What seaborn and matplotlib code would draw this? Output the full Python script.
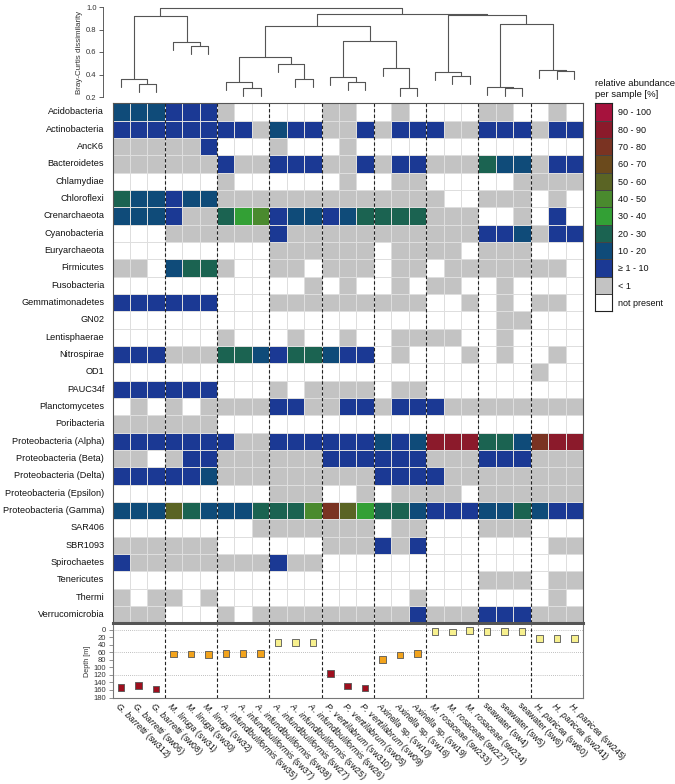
import numpy as np
import pandas as pd
import matplotlib
matplotlib.use("Agg")
import matplotlib.pyplot as plt
from matplotlib.colors import ListedColormap, BoundaryNorm
import seaborn as sns

sns.set_theme(style="white")
plt.rcParams["font.family"] = ["Liberation Sans", "DejaVu Sans"]
plt.rcParams["mathtext.fontset"] = "custom"
plt.rcParams["mathtext.it"] = "Liberation Sans:italic"
plt.rcParams["mathtext.rm"] = "Liberation Sans"

# --- data ---
species = ["G. barretti"] * 3 + ["M. linuga"] * 3 + ["A. infundibuliformis"] * 6 + \
          ["P. ventilabrum"] * 3 + ["Axinella sp."] * 3 + ["M. rosaceae"] * 3 + \
          ["seawater"] * 3 + ["H. panicea"] * 3
sample_ids = ["sw312", "sw06", "sw08", "sw31", "sw30", "sw32", "sw35", "sw37", "sw38",
              "sw27", "sw25", "sw26", "sw310", "sw05", "sw09", "sw10", "sw16", "sw19",
              "sw233", "sw227", "sw234", "sw4", "sw5", "sw6", "sw60", "sw241", "sw245"]

phyla = ["Acidobacteria", "Actinobacteria", "AncK6", "Bacteroidetes", "Chlamydiae",
         "Chloroflexi", "Crenarchaeota", "Cyanobacteria", "Euryarchaeota", "Firmicutes",
         "Fusobacteria", "Gemmatimonadetes", "GN02", "Lentisphaerae", "Nitrospirae",
         "OD1", "PAUC34f", "Planctomycetes", "Poribacteria", "Proteobacteria (Alpha)",
         "Proteobacteria (Beta)", "Proteobacteria (Delta)", "Proteobacteria (Epsilon)",
         "Proteobacteria (Gamma)", "SAR406", "SBR1093", "Spirochaetes", "Tenericutes",
         "Thermi", "Verrucomicrobia"]

# abundance class: 0 not present, 1 <1, 2 1-10, 3 10-20, ... 11 90-100
abundance = [
    [3,3,3,2,2,2,1,0,0,0,0,0,1,1,0,0,1,0,0,0,0,1,1,0,0,1,0],
    [2,2,2,2,2,2,2,2,1,3,2,2,1,1,2,1,2,2,2,1,1,2,2,2,1,2,2],
    [1,1,1,1,1,2,0,0,0,1,0,0,0,1,0,0,0,0,0,0,0,0,0,0,0,0,0],
    [1,1,1,1,1,1,2,1,1,2,2,2,1,1,2,1,2,2,1,1,1,4,3,3,1,2,2],
    [0,0,0,0,0,0,1,0,0,0,0,0,0,1,0,0,1,1,0,0,0,0,0,1,1,1,1],
    [4,3,3,2,3,3,1,1,1,1,1,1,1,1,1,1,1,1,1,0,0,1,1,1,0,1,0],
    [3,3,3,2,1,1,4,5,6,2,3,3,2,3,4,4,4,4,1,1,1,0,0,1,0,2,0],
    [0,0,0,1,1,1,1,1,1,2,1,1,1,1,1,1,1,1,1,1,1,2,2,3,1,2,2],
    [0,0,0,0,0,0,0,0,0,1,1,1,1,1,1,0,1,1,1,1,0,1,1,1,0,0,0],
    [1,1,0,3,4,4,1,0,0,1,1,0,1,1,1,0,1,1,0,1,1,1,1,1,1,1,0],
    [0,0,0,0,0,0,0,0,0,0,0,1,0,1,0,0,1,0,1,1,0,0,1,0,0,0,0],
    [2,2,2,2,2,2,0,0,0,1,1,1,1,1,1,1,1,1,0,0,1,0,1,0,1,1,0],
    [0,0,0,0,0,0,0,0,0,0,0,0,0,0,0,0,0,0,0,0,0,0,1,1,0,0,0],
    [0,0,0,0,0,0,1,0,0,0,1,0,0,1,0,0,1,1,1,1,0,0,1,0,0,0,0],
    [2,2,2,1,1,1,4,4,3,2,4,4,3,2,2,0,1,0,0,0,1,0,1,0,0,1,0],
    [0,0,0,0,0,0,0,0,0,0,0,0,0,0,0,0,0,0,0,0,0,0,0,0,1,0,0],
    [2,2,2,2,2,2,0,0,0,1,0,1,1,1,1,0,1,1,0,0,0,0,0,0,0,0,0],
    [0,1,0,1,0,1,1,1,1,2,2,1,1,2,2,1,2,2,2,1,1,1,1,1,1,1,1],
    [1,1,1,1,1,1,0,0,0,0,0,0,0,0,0,0,0,0,0,0,0,0,0,0,0,0,0],
    [2,2,2,2,2,2,2,1,1,2,2,2,2,2,2,3,2,3,10,10,10,4,4,3,9,10,10],
    [1,1,0,1,2,2,1,1,1,1,1,1,2,2,2,2,2,2,1,1,1,2,2,2,1,1,1],
    [2,2,2,2,2,3,1,1,1,1,1,1,1,1,1,2,2,2,2,1,1,1,1,1,1,1,1],
    [0,0,0,0,0,0,0,0,0,1,1,1,0,0,1,0,1,1,1,1,0,1,1,1,1,1,1],
    [3,3,3,7,4,3,3,3,4,4,4,6,9,7,5,4,4,3,2,2,2,3,3,4,3,2,2],
    [0,0,0,0,0,0,0,0,1,1,1,1,1,1,1,0,1,1,0,0,0,1,1,1,0,0,0],
    [1,1,1,1,1,1,0,0,0,0,0,0,1,1,1,2,1,2,0,0,0,0,0,0,0,1,1],
    [2,1,1,1,1,1,1,1,1,2,1,1,0,0,0,0,0,0,0,0,0,0,0,0,0,0,0],
    [0,0,0,0,0,0,0,0,0,0,0,0,0,0,0,0,0,0,0,0,0,1,1,1,0,1,1],
    [1,0,1,1,0,1,0,0,0,0,0,0,0,0,0,0,0,1,0,0,0,0,0,0,0,1,0],
    [1,1,1,0,0,0,1,0,1,1,1,1,1,1,1,1,1,2,1,1,1,2,2,2,1,1,1],
]

class_labels = ["not present", "< 1", "\u2265 1 - 10", "10 - 20", "20 - 30", "30 - 40",
                "40 - 50", "50 - 60", "60 - 70", "70 - 80", "80 - 90", "90 - 100"]
class_colors = ["#ffffff", "#c3c3c3", "#1b3994", "#0f4b79", "#1b6351", "#33a035",
                "#4a8a2e", "#5a6424", "#6b4a1c", "#7a3322", "#8b1a2b", "#a6123d"]

depth = [154, 148, 157, 65, 65, 66, 63, 64, 64, 35, 35, 35, 117, 150, 155,
         79, 68, 64, 5, 7, 2, 5, 5, 5, 24, 24, 24]
depth_zone = ["deep"] * 3 + ["mid"] * 6 + ["shallow"] * 3 + ["deep"] * 3 + ["mid"] * 3 + \
             ["shallow"] * 9
zone_colors = {"deep": "#9e0f1e", "mid": "#f2a31c", "shallow": "#f7f08e"}
depth_guides = [0, 60, 120]
group_breaks = [3, 6, 9, 12, 15, 18, 21, 24]

# Bray-Curtis dendrogram: (left, right, height); leaves 0..26, new nodes from 27
merges = [
    (1, 2, 0.320), (0, 27, 0.363), (4, 5, 0.653), (3, 29, 0.686), (28, 30, 0.917),
    (7, 8, 0.283), (6, 32, 0.333), (10, 11, 0.357), (9, 34, 0.493), (33, 35, 0.553),
    (13, 14, 0.333), (12, 37, 0.378), (16, 17, 0.277), (15, 39, 0.458), (38, 40, 0.698),
    (36, 41, 0.828), (19, 20, 0.387), (18, 43, 0.419), (22, 23, 0.277), (21, 45, 0.286),
    (25, 26, 0.428), (24, 47, 0.437), (46, 48, 0.846), (44, 49, 0.929), (42, 50, 0.941),
    (31, 51, 0.991),
]
hang = 0.072


def sample_label(sp, sid):
    if sp == "seawater":
        return f"{sp} ({sid})"
    if sp.endswith(" sp."):
        return f"$\\mathit{{{sp[:-4]}}}$ sp. ({sid})"
    return "$\\mathit{" + sp.replace(" ", "\\ ") + "}$" + f" ({sid})"


samples = [sample_label(s, i) for s, i in zip(species, sample_ids)]
n = len(samples)

W, H = 675, 784
fig = plt.figure(figsize=(W / 100, H / 100), dpi=100)


def box(x0, y0, x1, y1):
    return [x0 / W, 1 - y1 / H, (x1 - x0) / W, (y1 - y0) / H]


ax_den = fig.add_axes(box(112.5, 7, 583, 97))
ax_hm = fig.add_axes(box(112.5, 103.3, 583, 623.3))
ax_dep = fig.add_axes(box(112.5, 625, 583, 697.5))
ax_leg = fig.add_axes(box(595, 103.3, 612, 311.3))

cmap = ListedColormap(class_colors)
norm = BoundaryNorm(np.arange(-0.5, len(class_colors)), len(class_colors))

# --- heatmap ---
df = pd.DataFrame(abundance, index=phyla, columns=samples)
sns.heatmap(df, ax=ax_hm, cmap=cmap, norm=norm, cbar=False, linewidths=0.7,
            linecolor="#dedede", xticklabels=False, yticklabels=True)
ax_hm.tick_params(axis="y", length=0, labelsize=6.6, pad=6, labelcolor="#111")
ax_hm.set_yticklabels(phyla, rotation=0)
ax_hm.set_xlabel("")
ax_hm.set_ylabel("")
for name, sp in ax_hm.spines.items():
    sp.set_visible(True)
    sp.set_color("#555")
    sp.set_linewidth(0.8)
ax_hm.spines["bottom"].set_linewidth(2.2)
for b in group_breaks:
    ax_hm.axvline(b, color="#222", ls=(0, (3, 2)), lw=0.8)

# --- dendrogram ---
pos = {i: i + 0.5 for i in range(n)}
hgt = {}
for k, (a, b, h) in enumerate(merges):
    node = n + k
    for c in (a, b):
        bottom = hgt.get(c, h - hang)
        ax_den.plot([pos[c], pos[c]], [bottom, h], color="#555", lw=0.8)
    ax_den.plot([pos[a], pos[b]], [h, h], color="#555", lw=0.8)
    pos[node] = (pos[a] + pos[b]) / 2
    hgt[node] = h
ax_den.set_xlim(0, n)
ax_den.set_ylim(0.2, 1.0)
ax_den.set_xticks([])
ax_den.set_yticks([0.2, 0.4, 0.6, 0.8, 1.0])
ax_den.set_yticklabels(["0.2", "0.4", "0.6", "0.8", "1.0"], rotation=90, va="center")
ax_den.tick_params(axis="y", labelsize=5.5, length=3, width=0.6, pad=1.5, left=True,
                   color="#444", labelcolor="#333")
for s in ["top", "right", "bottom"]:
    ax_den.spines[s].set_visible(False)
ax_den.spines["left"].set_position(("outward", 7))
ax_den.spines["left"].set_color("#444")
ax_den.spines["left"].set_linewidth(0.6)
ax_den.set_ylabel("Bray-Curtis dissimilarity", fontsize=5.8, color="#333", labelpad=2)
ax_den.patch.set_alpha(0)

# --- depth panel ---
dep = pd.DataFrame({"x": np.arange(n) + 0.5, "depth": depth, "zone": depth_zone})
for g in depth_guides:
    ax_dep.axhline(g, color="#aaa", ls=(0, (1, 1.5)), lw=0.6, zorder=0)
for b in group_breaks:
    ax_dep.axvline(b, color="#222", ls=(0, (3, 2)), lw=0.8)
sns.scatterplot(data=dep, x="x", y="depth", hue="zone", palette=zone_colors, marker="s",
                s=22, edgecolor="#555", linewidth=0.6, legend=False, ax=ax_dep, zorder=3)
ax_dep.set_xlim(0, n)
ax_dep.set_ylim(180, -12)
ax_dep.set_yticks(range(0, 181, 20))
ax_dep.tick_params(axis="y", labelsize=5.5, length=3, width=0.5, pad=1.5, left=True,
                   color="#666", labelcolor="#333")
ax_dep.set_xticks(dep["x"])
ax_dep.set_xticklabels(samples, rotation=-45, ha="left", va="top", rotation_mode="anchor",
                       fontsize=6.2, color="#111")
ax_dep.tick_params(axis="x", length=0, pad=2)
ax_dep.set_xlabel("")
ax_dep.set_ylabel("Depth [m]", fontsize=5.2, color="#333", labelpad=2)
ax_dep.spines["top"].set_visible(False)
for s in ["left", "right", "bottom"]:
    ax_dep.spines[s].set_color("#777")
    ax_dep.spines[s].set_linewidth(0.8)

# --- legend ---
leg_codes = list(range(len(class_colors) - 1, -1, -1))
leg_df = pd.DataFrame({"c": leg_codes}, index=[class_labels[c] for c in leg_codes])
sns.heatmap(leg_df, ax=ax_leg, cmap=cmap, norm=norm, cbar=False, linewidths=0.5,
            linecolor="#444", xticklabels=False, yticklabels=True)
ax_leg.yaxis.tick_right()
ax_leg.set_yticklabels(leg_df.index, rotation=0)
ax_leg.tick_params(axis="y", length=0, labelsize=6.5, pad=4, labelcolor="#111")
ax_leg.set_ylabel("")
for sp in ax_leg.spines.values():
    sp.set_visible(True)
    sp.set_color("#222")
    sp.set_linewidth(0.8)
fig.text(595 / W, 1 - 79 / H, "relative abundance\nper sample [%]", ha="left", va="top",
         fontsize=6.8, color="#111", linespacing=1.35)

fig.savefig("out.png", dpi=100, facecolor="white")
